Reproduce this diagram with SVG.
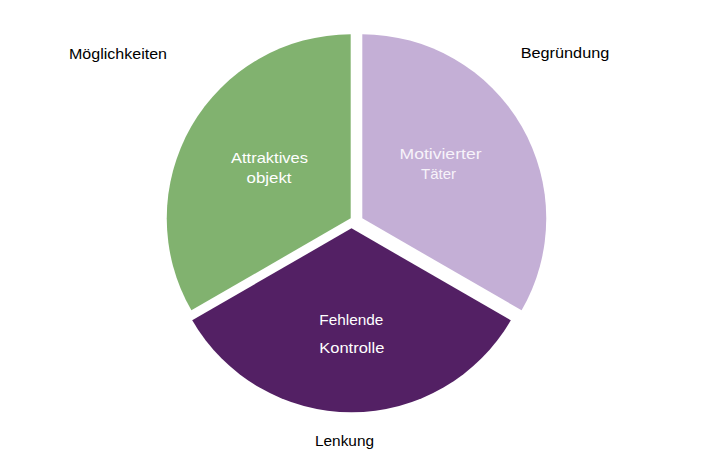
<svg xmlns="http://www.w3.org/2000/svg" width="723" height="463" viewBox="0 0 723 463">
  <style>
    .lbl { font-family: "Liberation Sans", Arial, sans-serif; font-size: 15px; fill: #000000; text-anchor: middle; }
    .in { font-family: "Liberation Sans", Arial, sans-serif; font-size: 15px; fill: #FFFFFF; text-anchor: middle; }
    .inl { font-family: "Liberation Sans", Arial, sans-serif; font-size: 15px; fill: #F7F3FA; text-anchor: middle; }
  </style>
  <rect width="723" height="463" fill="#FFFFFF"/>
  <g id="attraktives-objekt">
    <path d="M350.7,218.3 L350.7,34.3 A184,184 0 0,0 191.4,310.3 Z" fill="#81B26F"/>
    <text class="in" x="269.5" y="163.3" textLength="77" lengthAdjust="spacingAndGlyphs">Attraktives</text>
    <text class="in" x="269" y="182.7" textLength="45" lengthAdjust="spacingAndGlyphs">objekt</text>
  </g>
  <g id="motivierter-taeter">
    <path d="M362.3,218.3 L362.3,34.3 A184,184 0 0,1 521.6,310.3 Z" fill="#C4AFD6"/>
    <text class="inl" x="440.5" y="159.3" textLength="82" lengthAdjust="spacingAndGlyphs">Motivierter</text>
    <text class="inl" x="438.5" y="179">Täter</text>
  </g>
  <g id="fehlende-kontrolle">
    <path d="M351.5,228.3 L510.8,320.3 A184,184 0 0,1 192.2,320.3 Z" fill="#532064"/>
    <text class="in" x="351.3" y="325" textLength="64" lengthAdjust="spacingAndGlyphs">Fehlende</text>
    <text class="in" x="351.8" y="352.7" textLength="65" lengthAdjust="spacingAndGlyphs">Kontrolle</text>
  </g>
  <g id="labels">
    <text class="lbl" x="118" y="59.3" textLength="98" lengthAdjust="spacingAndGlyphs">Möglichkeiten</text>
    <text class="lbl" x="565" y="57.5" textLength="88.6" lengthAdjust="spacingAndGlyphs">Begründung</text>
    <text class="lbl" x="344.5" y="446" textLength="59" lengthAdjust="spacingAndGlyphs">Lenkung</text>
  </g>
</svg>
